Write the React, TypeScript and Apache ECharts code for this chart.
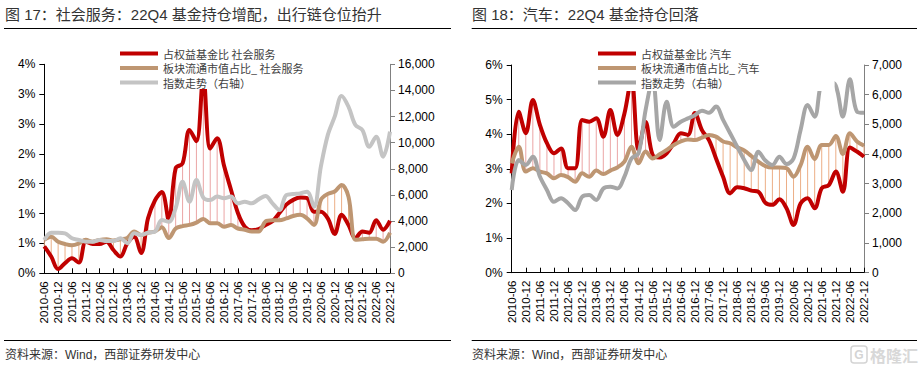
import React, { useEffect, useRef } from "react";
import * as echarts from "echarts";

// Quarterly categories 2010-06 .. 2022-12
const categories: string[] = [
  "2010-06","2010-09","2010-12","2011-03","2011-06","2011-09","2011-12","2012-03","2012-06","2012-09",
  "2012-12","2013-03","2013-06","2013-09","2013-12","2014-03","2014-06","2014-09","2014-12","2015-03",
  "2015-06","2015-09","2015-12","2016-03","2016-06","2016-09","2016-12","2017-03","2017-06","2017-09",
  "2017-12","2018-03","2018-06","2018-09","2018-12","2019-03","2019-06","2019-09","2019-12","2020-03",
  "2020-06","2020-09","2020-12","2021-03","2021-06","2021-09","2021-12","2022-03","2022-06","2022-09",
  "2022-12",
];

// Chart 17: 社会服务 (percent values, index on right axis)
const svcFund: number[] = [
  0.45,0.28,0.07,0.17,0.25,0.18,0.53,0.49,0.49,0.53,
  0.39,0.28,0.50,0.61,0.34,0.92,1.22,1.36,0.89,1.76,
  1.84,2.40,2.21,3.30,2.09,2.26,1.80,1.40,1.01,0.78,
  0.72,0.74,0.81,0.87,1.01,1.15,1.23,1.27,1.26,1.03,
  1.03,0.92,0.66,0.98,0.81,0.59,0.70,0.68,0.89,0.73,
  0.88,
];
const svcMkt: number[] = [
  0.56,0.61,0.53,0.49,0.47,0.50,0.56,0.53,0.56,0.57,
  0.55,0.57,0.59,0.70,0.64,0.68,0.70,0.77,0.59,0.75,
  0.79,0.81,0.85,0.91,0.84,0.84,0.78,0.81,0.75,0.73,
  0.70,0.70,0.87,0.89,0.89,0.92,0.96,0.98,0.92,0.81,
  1.23,1.33,1.37,1.48,1.28,0.56,0.57,0.58,0.58,0.53,
  0.68,
];
const svcIndex: number[] = [
  2550,3110,3110,3060,2680,2550,2420,2420,2550,2470,
  2470,2680,2300,3060,2930,3110,3190,4080,3950,5000,
  7010,5480,7140,5800,5610,5870,5740,5870,5360,5480,
  5360,5660,5920,5360,4850,5990,6070,6120,6250,5100,
  8160,10580,11990,13570,12750,11350,10970,9690,10460,8930,
  10840,
];

// Chart 18: 汽车
const autoFund: number[] = [
  2.87,4.65,4.03,4.99,4.27,3.74,3.45,3.59,3.02,3.02,
  4.41,4.36,4.46,3.93,4.70,3.98,4.60,5.60,3.55,4.35,
  3.40,3.33,3.45,3.74,4.03,3.98,4.61,4.12,3.83,3.30,
  2.77,2.29,2.47,2.44,2.37,2.34,2.02,1.96,2.12,1.86,
  1.38,2.00,2.15,1.86,2.44,2.53,2.92,2.34,3.62,3.50,
  3.35,
];
const autoMkt: number[] = [
  3.16,3.64,2.92,3.02,2.92,2.87,2.73,2.82,2.76,2.63,
  2.87,2.77,2.95,2.85,2.95,3.04,3.21,3.64,3.16,3.50,
  3.30,3.42,3.55,3.69,3.79,3.85,3.83,3.90,3.98,3.93,
  3.79,3.74,3.62,3.53,3.37,3.21,3.08,3.04,3.04,3.02,
  2.77,3.11,3.64,3.28,3.69,3.69,3.95,3.43,4.03,3.79,
  3.67,
];
const autoIndex: number[] = [
  2790,3800,3630,3910,3240,2790,2390,2510,2340,2110,
  2560,2620,2450,2840,2900,2840,3240,3850,4020,5480,
  6500,4470,5760,4920,5090,5200,5310,5460,5390,5600,
  5150,4700,4250,3800,3460,4080,3780,3630,3910,3660,
  3850,4810,5650,5260,6400,6450,6300,5260,6520,5430,
  5390,
];

const svcNames = ["占权益基金比 社会服务", "板块流通市值占比_ 社会服务", "指数走势（右轴）"];
const autoNames = ["占权益基金比 汽车", "板块流通市值占比_ 汽车", "指数走势（右轴）"];

const RED = "#C00000";
const TAN = "#BE9672";
const LATIN = '"Liberation Sans", Arial, sans-serif';
const CJK = '"Liberation Sans", "Noto Sans CJK SC", sans-serif';

const thousands = (v: number) => String(v).replace(/\B(?=(\d{3})+(?!\d))/g, ",");

interface Cfg {
  title: string;
  names: string[];
  fund: number[];
  mkt: number[];
  idx: number[];
  gray: string;
  grid: { left: number; top: number; width: number; height: number };
  leftMax: number;
  leftInterval: number;
  rightMax: number;
  rightInterval: number;
  legendLeft: number;
  legendPad: number[];
  lineX1: number;
  lineX2: number;
  textX: number;
  watermark: boolean;
}

function buildOption(c: Cfg): any {
  const graphic: any[] = [
    {
      type: "text",
      x: c.textX,
      y: 14,
      style: {
        text: c.title,
        font: `15px ${CJK}`,
        fill: "#333",
        textVerticalAlign: "middle",
        verticalAlign: "middle",
      },
    },
    { type: "line", shape: { x1: c.lineX1, y1: 28.5, x2: c.lineX2, y2: 28.5 }, style: { stroke: "#000", lineWidth: 1 } },
    { type: "line", shape: { x1: c.lineX1, y1: 340.5, x2: c.lineX2, y2: 340.5 }, style: { stroke: "#000", lineWidth: 1 } },
    {
      type: "text",
      x: c.textX,
      y: 355,
      style: {
        text: "资料来源：Wind，西部证券研发中心",
        font: `12px ${CJK}`,
        fill: "#333",
        textVerticalAlign: "middle",
        verticalAlign: "middle",
      },
    },
  ];
  if (c.watermark) {
    graphic.push(
      { type: "rect", shape: { x: 390, y: 346, width: 16, height: 17, r: 3 }, style: { fill: "none", stroke: "#d4d4d4", lineWidth: 1.5 } },
      { type: "text", x: 398, y: 355, style: { text: "G", font: `bold 12px ${LATIN}`, fill: "#d4d4d4", textAlign: "center", align: "center", textVerticalAlign: "middle", verticalAlign: "middle" } },
      { type: "text", x: 409, y: 355, style: { text: "格隆汇", font: `bold 16px "Noto Sans CJK SC"`, fill: "#d8d8d8", textVerticalAlign: "middle", verticalAlign: "middle" } }
    );
  }

  const dropData = categories.map((_, i) => [i, c.fund[i], c.mkt[i]]);

  return {
    animation: false,
    backgroundColor: "#fff",
    grid: { ...c.grid, containLabel: false },
    legend: {
      orient: "vertical",
      left: c.legendLeft,
      top: 46,
      padding: c.legendPad,
      backgroundColor: "#fff",
      itemWidth: 38,
      itemHeight: 4,
      itemGap: 1.5,
      icon: "rect",
      data: c.names,
      textStyle: { fontSize: 11, lineHeight: 13, color: "#404040", fontFamily: '"Noto Sans CJK SC", sans-serif' },
    },
    xAxis: {
      type: "category",
      data: categories,
      boundaryGap: false,
      axisLine: { show: true, lineStyle: { color: "#000", width: 1 } },
      axisTick: { show: true, inside: true, length: 5, interval: 1, lineStyle: { color: "#000" } },
      axisLabel: { rotate: 90, interval: 1, fontSize: 11.5, fontFamily: LATIN, color: "#000", margin: 8 },
      splitLine: { show: false },
    },
    yAxis: [
      {
        type: "value",
        min: 0,
        max: c.leftMax,
        interval: c.leftInterval,
        axisLine: { show: true, lineStyle: { color: "#000" } },
        axisTick: { show: true, length: 5, lineStyle: { color: "#000" } },
        splitLine: { show: false },
        axisLabel: {
          formatter: (v: number) => Math.round(v) + "%",
          fontSize: 12,
          fontFamily: LATIN,
          color: "#000",
          margin: 9,
        },
      },
      {
        type: "value",
        position: "right",
        min: 0,
        max: c.rightMax,
        interval: c.rightInterval,
        axisLine: { show: true, lineStyle: { color: "#808080" } },
        axisTick: { show: true, length: 5, lineStyle: { color: "#808080" } },
        splitLine: { show: false },
        axisLabel: {
          formatter: (v: number) => thousands(v),
          fontSize: 12,
          fontFamily: LATIN,
          color: "#000",
          margin: 8,
        },
      },
    ],
    series: [
      {
        type: "custom",
        silent: true,
        z: 1,
        xAxisIndex: 0,
        yAxisIndex: 0,
        encode: { x: 0, y: [1, 2] },
        data: dropData,
        renderItem: (_p: any, api: any) => {
          const i = api.value(0);
          const f = api.value(1);
          const m = api.value(2);
          const a = api.coord([i, f]);
          const b = api.coord([i, m]);
          return {
            type: "line",
            shape: { x1: a[0], y1: a[1], x2: b[0], y2: b[1] },
            style: { stroke: f > m ? "#EBA5A5" : "#ECAE86", lineWidth: 1 },
          };
        },
      },
      {
        name: c.names[0],
        type: "line",
        data: c.fund,
        yAxisIndex: 0,
        smooth: 0.35,
        symbol: "none",
        z: 2,
        itemStyle: { color: RED },
        lineStyle: { color: RED, width: 4 },
      },
      {
        name: c.names[1],
        type: "line",
        data: c.mkt,
        yAxisIndex: 0,
        smooth: 0.35,
        symbol: "none",
        z: 2,
        itemStyle: { color: TAN },
        lineStyle: { color: TAN, width: 4 },
      },
      {
        name: c.names[2],
        type: "line",
        data: c.idx,
        yAxisIndex: 1,
        smooth: 0.35,
        symbol: "none",
        z: 2,
        itemStyle: { color: c.gray },
        lineStyle: { color: c.gray, width: 4 },
      },
    ],
    graphic,
  };
}

const leftCfg: Cfg = {
  title: "图 17：社会服务：22Q4 基金持仓增配，出行链仓位抬升",
  names: svcNames,
  fund: svcFund,
  mkt: svcMkt,
  idx: svcIndex,
  gray: "#C4C4C4",
  grid: { left: 44.3, top: 64.3, width: 345.7, height: 209 },
  leftMax: 3.5,
  leftInterval: 0.5,
  rightMax: 16000,
  rightInterval: 2000,
  legendLeft: 118,
  legendPad: [1, 20, 0, 2],
  lineX1: 4,
  lineX2: 451,
  textX: 5,
  watermark: false,
};

const rightCfg: Cfg = {
  title: "图 18：汽车：22Q4 基金持仓回落",
  names: autoNames,
  fund: autoFund,
  mkt: autoMkt,
  idx: autoIndex,
  gray: "#A6A6A6",
  grid: { left: 50.7, top: 65, width: 352.3, height: 207.7 },
  leftMax: 6,
  leftInterval: 1,
  rightMax: 7000,
  rightInterval: 1000,
  legendLeft: 135,
  legendPad: [1, 75, 2, 2],
  lineX1: 10.7,
  lineX2: 456,
  textX: 11,
  watermark: true,
};

function Chart({ cfg, left, width }: { cfg: Cfg; left: number; width: number }) {
  const ref = useRef<HTMLDivElement>(null);
  useEffect(() => {
    if (!ref.current) return;
    const chart = echarts.init(ref.current, undefined, { renderer: "svg" });
    chart.setOption(buildOption(cfg));
    return () => chart.dispose();
  }, [cfg]);
  return <div ref={ref} style={{ position: "absolute", left, top: 0, width, height: 366 }} />;
}

export default function App() {
  return (
    <div style={{ position: "fixed", left: 0, top: 0, width: 923, height: 366, background: "#fff" }}>
      <Chart cfg={leftCfg} left={0} width={461} />
      <Chart cfg={rightCfg} left={461} width={462} />
    </div>
  );
}
